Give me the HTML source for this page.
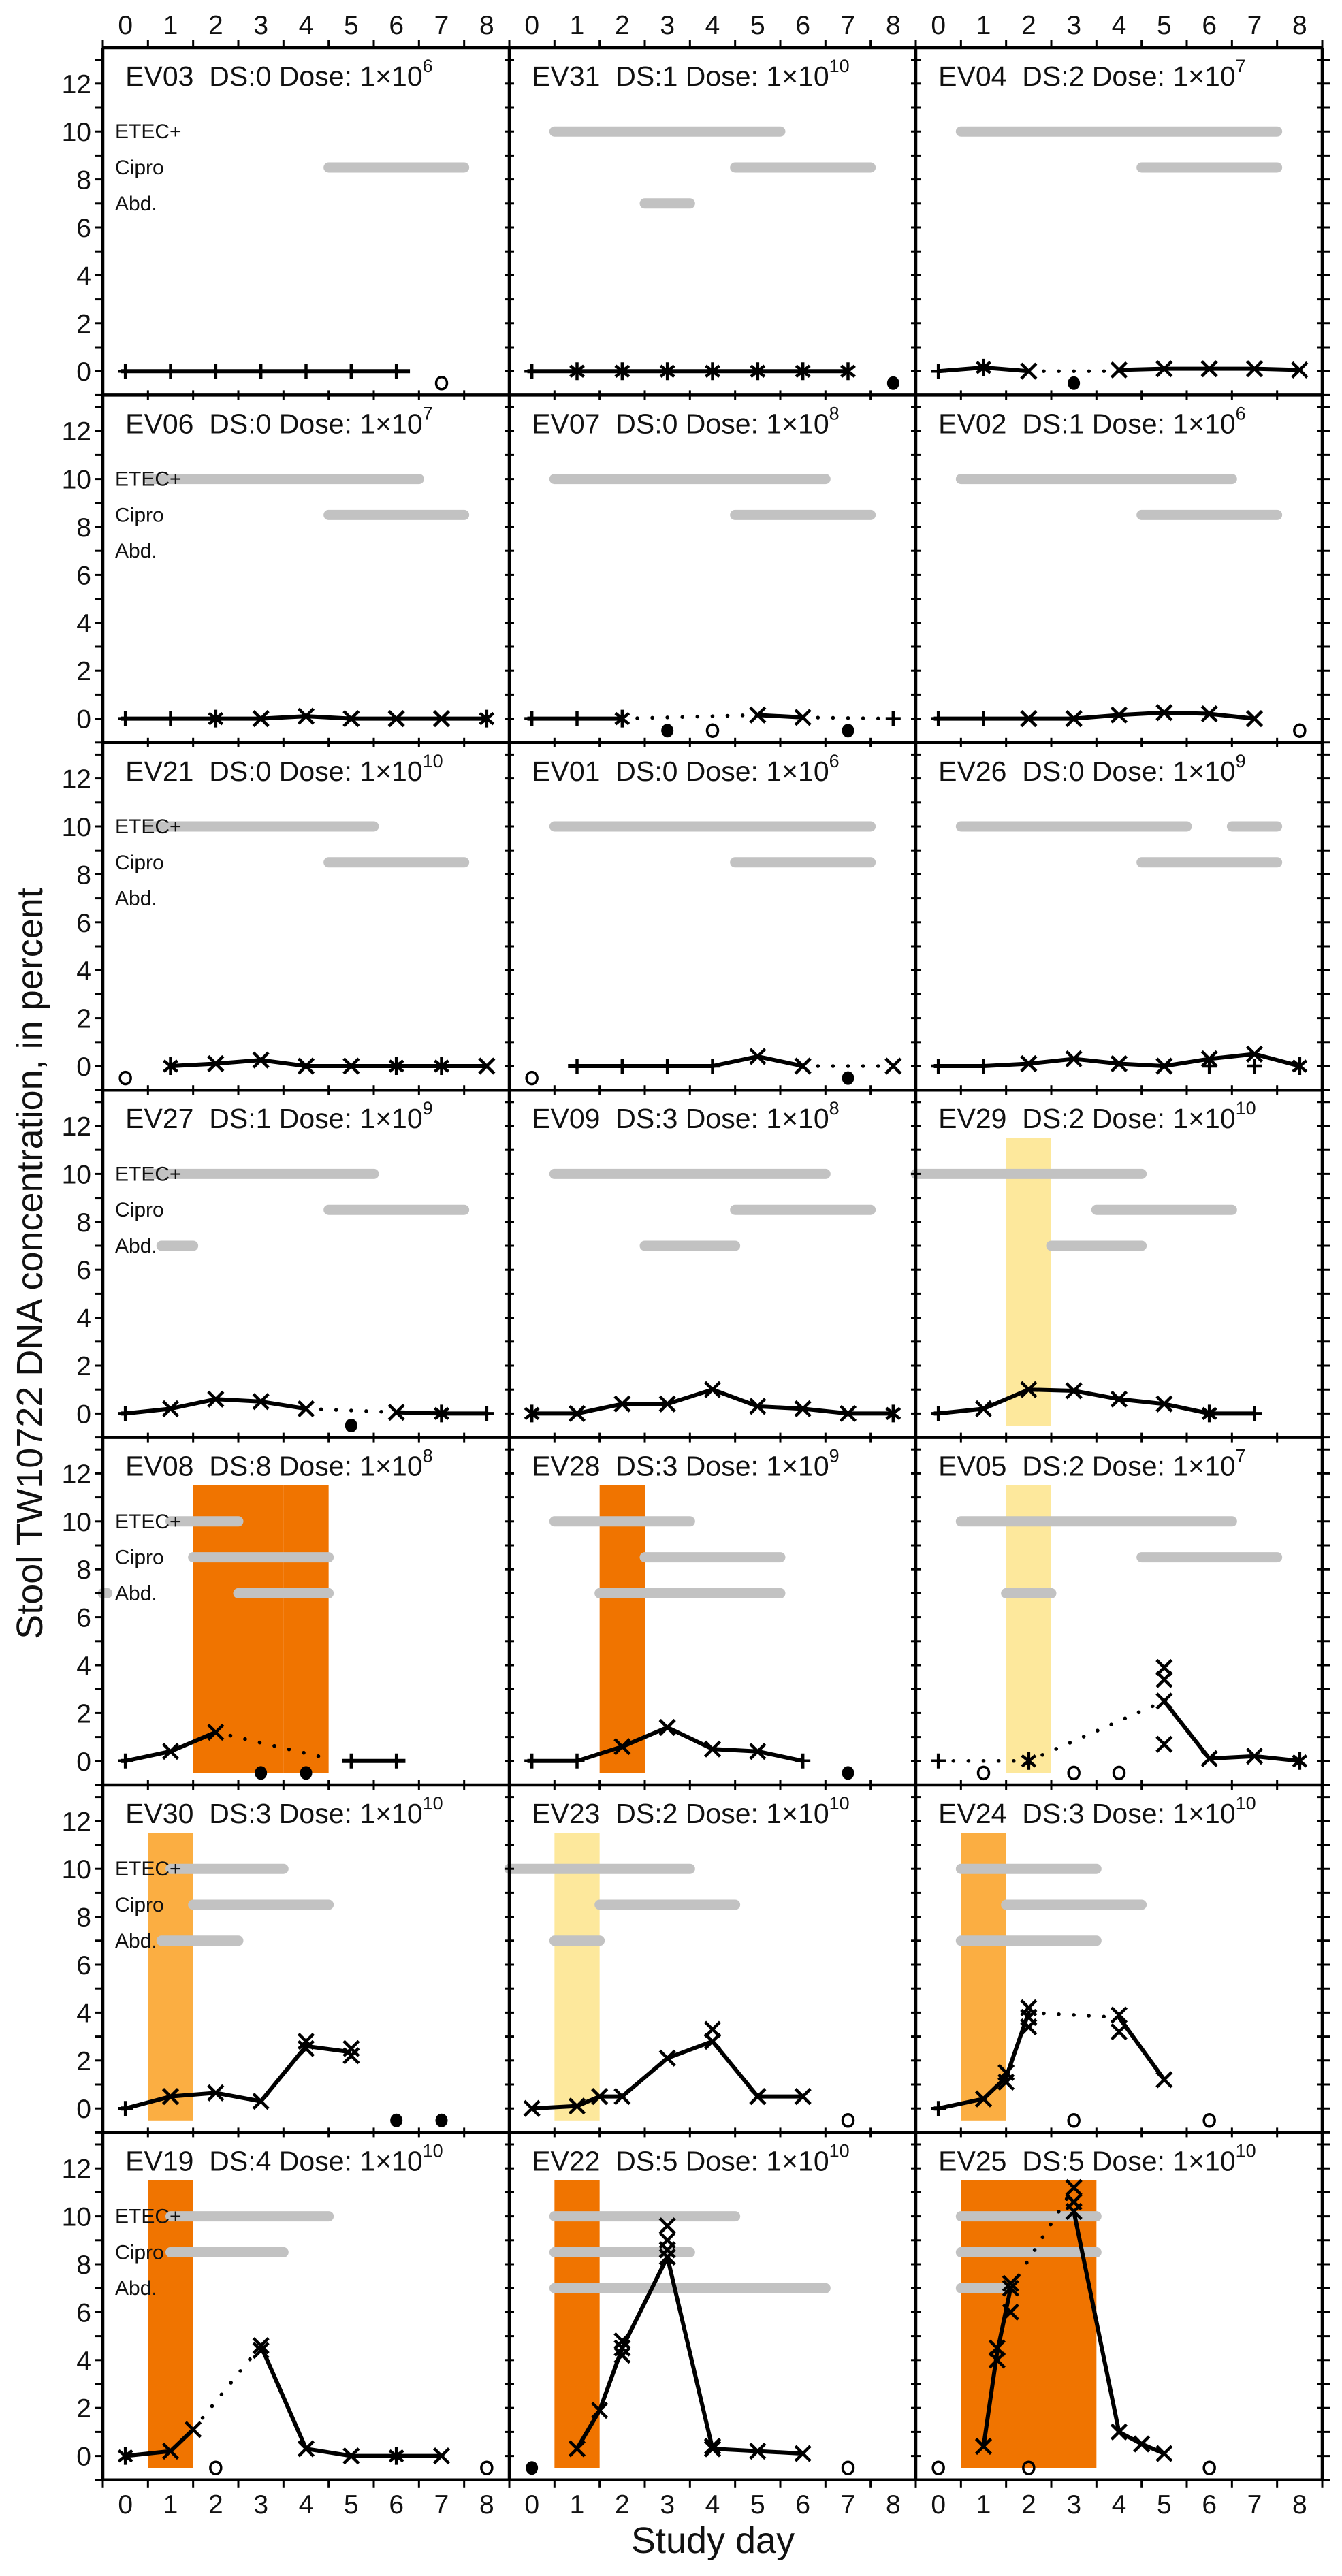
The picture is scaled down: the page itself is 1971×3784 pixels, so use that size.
<!DOCTYPE html>
<html><head><meta charset="utf-8"><style>
html,body{margin:0;padding:0;background:#fff}
svg{display:block;font-family:"Liberation Sans",Arial,sans-serif}
</style></head><body>
<svg id="chart" width="1971" height="3784" viewBox="0 0 1971 3784" xmlns="http://www.w3.org/2000/svg">
<rect width="1971" height="3784" fill="#fff"/>
<g id="layer"></g>
</svg>
<script>
// ---- data (row-major panels) ----
const titles = ["EV03","EV31","EV04","EV06","EV07","EV02","EV21","EV01","EV26","EV27","EV09","EV29","EV08","EV28","EV05","EV30","EV23","EV24","EV19","EV22","EV25"];
const dsValues = [0,1,2,0,0,1,0,0,0,1,3,2,8,3,2,3,2,3,4,5,5];
const doseExps = [6,10,7,7,8,6,10,6,9,9,8,10,8,9,7,10,10,10,10,10,10];
const etecBars = [[],[[0.5,5.5]],[[0.5,7.5]],[[0.5,6.5]],[[0.5,6.5]],[[0.5,6.5]],[[0.5,5.5]],[[0.5,7.5]],[[0.5,5.5],[6.5,7.5]],[[0.5,5.5]],[[0.5,6.5]],[[-0.5,4.5]],[[1.0,2.5]],[[0.5,3.5]],[[0.5,6.5]],[[1.0,3.5]],[[-0.5,3.5]],[[0.5,3.5]],[[1.0,4.5]],[[0.5,4.5]],[[0.5,3.5]]];
const ciproBars = [[[4.5,7.5]],[[4.5,7.5]],[[4.5,7.5]],[[4.5,7.5]],[[4.5,7.5]],[[4.5,7.5]],[[4.5,7.5]],[[4.5,7.5]],[[4.5,7.5]],[[4.5,7.5]],[[4.5,7.5]],[[3.5,6.5]],[[1.5,4.5]],[[2.5,5.5]],[[4.5,7.5]],[[1.5,4.5]],[[1.5,4.5]],[[1.5,4.5]],[[1.0,3.5]],[[0.5,3.5]],[[0.5,3.5]]];
const abdBars = [[],[[2.5,3.5]],[],[],[],[],[],[],[],[[0.8,1.5]],[[2.5,4.5]],[[2.5,4.5]],[[-0.5,-0.4],[2.5,4.5]],[[1.5,5.5]],[[1.5,2.5]],[[0.8,2.5]],[[0.5,1.5]],[[0.5,3.5]],[],[[0.5,6.5]],[[0.5,1.5]]];
const bands = [[],[],[],[],[],[],[],[],[],[],[],[[1.5,2.5,"y"]],[[1.5,3.5,"d"],[3.5,4.5,"d"]],[[1.5,2.5,"d"]],[[1.5,2.5,"y"]],[[0.5,1.5,"l"]],[[0.5,1.5,"y"]],[[0.5,1.5,"l"]],[[0.5,1.5,"d"]],[[0.5,1.5,"d"]],[[0.5,2.5,"d"],[2.5,3.5,"d"]]];
const solidLines = [
 [[[-0.1,0],[0,0],[1,0],[2,0],[3,0],[4,0],[5,0],[6,0],[6.3,0]]],
 [[[-0.1,0],[0,0],[1,0],[2,0],[3,0],[4,0],[5,0],[6,0],[7,0]]],
 [[[0,0],[1,0.15],[2,0]],[[4,0.05],[5,0.1],[6,0.1],[7,0.1],[8,0.05]]],
 [[[-0.1,0],[0,0],[1,0],[2,0],[3,0],[4,0.1],[5,0],[6,0],[7,0],[8,0]]],
 [[[-0.1,0],[0,0],[1,0],[2,0]],[[5,0.15],[6,0.05]]],
 [[[-0.1,0],[0,0],[1,0],[2,0],[3,0],[4,0.15],[5,0.25],[6,0.2],[7,0]]],
 [[[1,0],[2,0.1],[3,0.25],[4,0],[5,0],[6,0],[7,0],[8,0]]],
 [[[0.8,0],[1,0],[2,0],[3,0],[4,0],[5,0.4],[6,0]]],
 [[[-0.1,0],[0,0],[1,0],[2,0.1],[3,0.3],[4,0.1],[5,0],[6,0.3],[7,0.5],[8,0]]],
 [[[-0.1,0],[0,0],[1,0.2],[2,0.6],[3,0.5],[4,0.2]],[[6,0.05],[7,0],[8,0]]],
 [[[0,0],[1,0],[2,0.4],[3,0.4],[4,1.0],[5,0.3],[6,0.2],[7,0],[8,0]]],
 [[[-0.1,0],[0,0],[1,0.2],[2,1.0],[3,0.95],[4,0.6],[5,0.4],[6,0],[7,0]]],
 [[[-0.1,0],[0,0],[1,0.4],[2,1.2]],[[4.8,0],[5,0],[6,0],[6.2,0]]],
 [[[-0.1,0],[0,0],[1,0],[2,0.6],[3,1.4],[4,0.5],[5,0.4],[6,0]]],
 [[[5,2.5],[6,0.1],[7,0.2],[8,0]]],
 [[[-0.1,0],[0,0],[1,0.5],[2,0.65],[3,0.3],[4,2.6],[5,2.35]]],
 [[[0,0],[1,0.1],[1.5,0.5],[2,0.5],[3,2.1],[4,2.8],[5,0.5],[6,0.5]]],
 [[[-0.1,0],[0,0],[1,0.4],[1.5,1.3],[2,4.0]],[[4,3.8],[5,1.2]]],
 [[[0,0],[1,0.2],[1.5,1.1]],[[3,4.6],[4,0.3],[5,0],[6,0],[7,0]]],
 [[[1,0.3],[1.5,1.9],[2,4.5],[3,8.3],[4,0.3],[5,0.2],[6,0.1]]],
 [[[1,0.4],[1.3,4.3],[1.6,7.0]],[[3,10.2],[4,1.0],[4.5,0.5],[5,0.1]]]
];
const dottedLines = [[],[],[[[2,0],[4,0]]],[],[[[2,0],[5,0.15]],[[6,0.05],[8,0]]],[],[],[[[6,0],[8,0]]],[],[[[4,0.2],[6,0.05]]],[],[],[[[2,1.2],[4.5,0.1]]],[],[[[0,0],[2,0],[5,2.5]]],[],[],[[[2,4.0],[4,3.8]]],[[[1.5,1.1],[3,4.6]]],[],[[[1.6,7.0],[3,11.2]]]];
const markerDays = [
 [0,1,2,3,4,5,6],[0,1,2,3,4,5,6,7],[0,1,2,4,5,6,7,8],[0,1,2,3,4,5,6,7,8],[0,1,2,5,6,8],[0,1,2,3,4,5,6,7],[1,2,3,4,5,6,7,8],[1,2,3,4,5,6,8],[0,1,2,3,4,5,6,6,7,7,8],[0,1,2,3,4,6,7,8],[0,1,2,3,4,5,6,7,8],[0,1,2,3,4,5,6,7],[0,1,2,5,6],[0,1,2,3,4,5,6],[0,2,5,5,5,5,6,7,8],[0,1,2,3,4,4,5,5],[0,1,1.5,2,3,4,4,5,6],[0,1,1.5,1.5,2,2,2,4,4,5],[0,1,1.5,3,3,4,5,6,7],[1,1.5,2,2,2,3,3,3,3,4,4,5,6],[1,1.3,1.3,1.6,1.6,1.6,3,3,3,4,4.5,5]
];
const markerValues = [
 [0,0,0,0,0,0,0],[0,0,0,0,0,0,0,0],[0,0.15,0,0.05,0.1,0.1,0.1,0.05],[0,0,0,0,0.1,0,0,0,0],[0,0,0,0.15,0.05,0],[0,0,0,0,0.15,0.25,0.2,0],[0,0.1,0.25,0,0,0,0,0],[0,0,0,0,0.4,0,0],[0,0,0.1,0.3,0.1,0,0.3,0,0.5,0,0],[0,0.2,0.6,0.5,0.2,0.05,0,0],[0,0,0.4,0.4,1.0,0.3,0.2,0,0],[0,0.2,1.0,0.95,0.6,0.4,0,0],[0,0.4,1.2,0,0],[0,0,0.6,1.4,0.5,0.4,0],[0,0,0.7,2.5,3.4,3.9,0.1,0.2,0],[0,0.5,0.65,0.3,2.8,2.5,2.5,2.2],[0,0.1,0.5,0.5,2.1,2.8,3.3,0.5,0.5],[0,0.4,1.1,1.5,4.2,3.8,3.4,3.9,3.2,1.2],[0,0.2,1.1,4.6,4.4,0.3,0,0,0],[0.3,1.9,4.2,4.5,4.8,8.3,8.6,9.0,9.6,0.3,0.4,0.2,0.1],[0.4,4.0,4.5,6.0,7.0,7.2,10.2,10.6,11.2,1.0,0.5,0.1]
];
const markerTypes = [
 "+++++++","+*******","+*xxxxxx","++*xxxxx*","++*xx+","++xxxxxx","*xxxx**x","++++xxx","++xxxxx+x+*","+xxxxx*+","*xxxxxxx*","+xxxxx*+","+xx++","++xxxx+","+*xxxxxx*","+xxxxxxx","xxxxxxxxx","+xxxxxxxxx","*xxxxxx*x","xxxxxxxxxxxxx","xxxxxxxxxxxx"
];
const openCircleDays = [[7],[],[],[],[4],[8],[0],[0],[],[],[],[],[],[],[1,3,4],[],[7],[3,6],[2,8],[7],[0,2,6]];
const filledCircleDays = [[],[8],[3],[],[3,7],[],[],[7],[],[5],[],[],[3,4],[7],[],[6,7],[],[],[],[0],[]];
const dayTicks = [0,1,2,3,4,5,6,7,8];
const yTicks = [0,2,4,6,8,10,12];

// ---- layout ----
const L=151, T=70, CW=597, RH=510.4, NC=3, NR=7;
const DX=CW/9, DY=RH/14.5;
const NS="http://www.w3.org/2000/svg";
const layer=document.getElementById("layer");
function xs(c,d){return L+c*CW+(d+0.5)*DX;}
function ys(r,v){return T+r*RH+(13.5-v)*DY;}
function mk(tag,attrs,parent){const e=document.createElementNS(NS,tag);for(const k in attrs)e.setAttribute(k,attrs[k]);(parent||layer).appendChild(e);return e;}
const bandColor={d:"#f07400",l:"#fbae42",y:"#fde89c"};

for(let i=0;i<21;i++){
  const r=Math.floor(i/3), c=i%3;
  const g=mk("g",{});
  
  
  bands[i].forEach(b=>{
    const e=mk("rect",{x:xs(c,b[0]),y:ys(r,11.5),width:(b[1]-b[0])*DX,height:ys(r,-0.5)-ys(r,11.5),fill:bandColor[b[2]]},g);
    
    
  });
  [[etecBars[i],10,'etec-bar'],[ciproBars[i],8.5,'cipro-bar'],[abdBars[i],7,'abd-bar']].forEach(set=>{
    set[0].forEach(b=>{
      const e=mk("line",{x1:xs(c,b[0]),x2:xs(c,b[1]),y1:ys(r,set[1]),y2:ys(r,set[1]),stroke:"#c2c2c2","stroke-width":15,"stroke-linecap":"round"},g);
      
      
    });
  });
  if(c===0){
    [["ETEC+",10],["Cipro",8.5],["Abd.",7]].forEach(p=>{
      const t=mk("text",{x:L+18,y:ys(r,p[1])+10,"font-size":30,fill:"#111"},g);
      t.textContent=p[0];
      
      
    });
  }
  solidLines[i].forEach(pl=>{
    const e=mk("polyline",{points:pl.map(p=>xs(c,p[0])+","+ys(r,p[1])).join(" "),fill:"none",stroke:"#000","stroke-width":6,"stroke-linejoin":"round"},g);
    
    
  });
  dottedLines[i].forEach(pl=>{
    const e=mk("polyline",{points:pl.map(p=>xs(c,p[0])+","+ys(r,p[1])).join(" "),fill:"none",stroke:"#000","stroke-width":5.5,"stroke-dasharray":"0.1 22","stroke-linecap":"round"},g);
    
    
  });
  markerDays[i].forEach((d,j)=>{
    const x=xs(c,d), y=ys(r,markerValues[i][j]), t=markerTypes[i][j], s=11;
    let p="";
    if(t==="+") p=`M${x-s},${y}H${x+s}M${x},${y-s}V${y+s}`;
    else if(t==="x") p=`M${x-s},${y-s}L${x+s},${y+s}M${x-s},${y+s}L${x+s},${y-s}`;
    else p=`M${x},${y-s-2}V${y+s+2}M${x-s+1},${y-s+3}L${x+s-1},${y+s-3}M${x-s+1},${y+s-3}L${x+s-1},${y-s+3}`;
    const e=mk("path",{d:p,stroke:"#000","stroke-width":4.5,fill:"none"},g);
    
    
  });
  openCircleDays[i].forEach(d=>{
    const e=mk("ellipse",{cx:xs(c,d),cy:ys(r,-0.5),rx:8,ry:9,fill:"none",stroke:"#000","stroke-width":3.5},g);
    
    
  });
  filledCircleDays[i].forEach(d=>{
    const e=mk("ellipse",{cx:xs(c,d),cy:ys(r,-0.5),rx:9,ry:10,fill:"#000"},g);
    
    
  });
  const tt=mk("text",{x:xs(c,0),y:T+r*RH+56,"font-size":41,fill:"#111"},g);
  
  
  const s1=mk("tspan",{},tt); s1.textContent=titles[i]+"\u00a0\u00a0DS:"+dsValues[i]+" Dose: 1\u00d710";
  const s2=mk("tspan",{dy:-20,"font-size":27},tt); s2.textContent=String(doseExps[i]);
}

const frame=mk("g",{});


for(let r=0;r<=NR;r++) mk("line",{x1:L,x2:L+NC*CW,y1:T+r*RH,y2:T+r*RH,stroke:"#000","stroke-width":4.5},frame);
for(let c=0;c<=NC;c++) mk("line",{x1:L+c*CW,x2:L+c*CW,y1:T,y2:T+NR*RH,stroke:"#000","stroke-width":4.5},frame);
for(let r=0;r<=NR;r++)for(let c=0;c<NC;c++)for(let d=0;d<=9;d++){
  const x=L+c*CW+d*DX, y=T+r*RH;
  const up=(r===0)?-11:-7, dn=(r===NR)?11:(r===0?0:7);
  mk("line",{x1:x,x2:x,y1:y+(r===NR?0:up),y2:y+dn,stroke:"#000","stroke-width":3},frame);
}
for(let r=0;r<NR;r++)for(let c=0;c<=NC;c++)for(let v=-1;v<=13;v++){
  const y=ys(r,v), x=L+c*CW;
  const a=(c===0)?-12:-7, b=(c===NC)?12:(c===0?0:7);
  mk("line",{x1:x+a,x2:x+b,y1:y,y2:y,stroke:"#000","stroke-width":3},frame);
}
for(let c=0;c<NC;c++) dayTicks.forEach(d=>{
  const t1=mk("text",{x:xs(c,d),y:50,"font-size":39,"text-anchor":"middle",fill:"#111"});
  t1.textContent=d;
  
  
  const t2=mk("text",{x:xs(c,d),y:3692,"font-size":39,"text-anchor":"middle",fill:"#111"});
  t2.textContent=d;
  
  
});
for(let r=0;r<NR;r++) yTicks.forEach(v=>{
  const t=mk("text",{x:134,y:ys(r,v)+14,"font-size":39,"text-anchor":"end",fill:"#111"});
  t.textContent=v;
  
  
});
const xt=mk("text",{x:1047,y:3750,"font-size":54,"text-anchor":"middle",fill:"#111"});
xt.textContent="Study day";


const yt=mk("text",{x:0,y:0,"font-size":54,"text-anchor":"middle",fill:"#111",transform:"translate(62,1856) rotate(-90)"});
yt.textContent="Stool TW10722 DNA concentration, in percent";


</script>
</body></html>
